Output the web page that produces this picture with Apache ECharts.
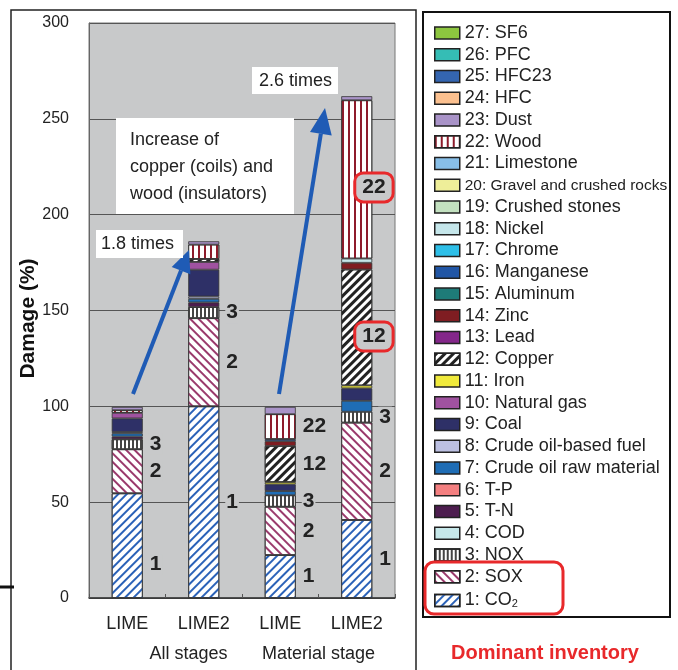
<!DOCTYPE html>
<html><head><meta charset="utf-8">
<script src="https://cdn.jsdelivr.net/npm/echarts@6/dist/echarts.min.js"></script>
<style>html,body{margin:0;padding:0;background:#fff}#c{width:678px;height:670px}</style>
</head><body><div id="c"></div>
<script>
// ---------- data ----------
const categories = ['LIME', 'LIME2', 'LIME', 'LIME2'];
const stageGroups = ['All stages', 'Material stage'];
const yTicks = [0, 50, 100, 150, 200, 250, 300];
const inventoryNames = [
  '1: CO2', '2: SOX', '3: NOX', '4: COD', '5: T-N', '6: T-P',
  '7: Crude oil raw material', '8: Crude oil-based fuel', '9: Coal', '10: Natural gas',
  '11: Iron', '12: Copper', '13: Lead', '14: Zinc', '15: Aluminum', '16: Manganese',
  '17: Chrome', '18: Nickel', '19: Crushed stones', '20: Gravel and crushed rocks',
  '21: Limestone', '22: Wood', '23: Dust', '24: HFC', '25: HFC23', '26: PFC', '27: SF6'
];
// values per bar: [LIME all, LIME2 all, LIME material, LIME2 material]
const co2        = [54.6, 100, 22.4, 40.7];
const sox        = [23.0, 46.0, 25.2, 50.8];
const nox        = [5.2, 5.8, 6.0, 5.7];
const cod        = [0, 0, 0, 0];
const tN         = [1.4, 2.4, 0, 0];
const tP         = [0, 0, 0, 0];
const crudeRaw   = [1.7, 1.9, 2.2, 5.7];
const crudeFuel  = [0.7, 1.2, 0, 0];
const coal       = [7.1, 14.0, 3.5, 6.5];
const naturalGas = [2.9, 4.0, 0, 0];
const iron       = [0, 0, 1.2, 1.5];
const copper     = [0, 1.6, 18.8, 60.5];
const lead       = [0, 0, 0, 0];
const zinc       = [0, 0, 2.5, 3.5];
const aluminum   = [0, 0, 0, 0];
const manganese  = [0, 0, 1.1, 0];
const chrome     = [0, 0, 0, 0];
const nickel     = [0, 0, 0, 2.2];
const crushed    = [0, 0, 0, 0];
const gravel     = [0, 0, 0, 0];
const limestone  = [0, 0, 0, 0];
const wood       = [1.4, 7.5, 13.0, 82.6];
const dust       = [1.7, 1.7, 3.8, 2.1];
const hfc        = [0, 0, 0, 0];
const hfc23      = [0, 0, 0, 0];
const pfc        = [0, 0, 0, 0];
const sf6        = [0, 0, 0, 0];
const seriesValues = [co2, sox, nox, cod, tN, tP, crudeRaw, crudeFuel, coal, naturalGas,
  iron, copper, lead, zinc, aluminum, manganese, chrome, nickel, crushed, gravel,
  limestone, wood, dust, hfc, hfc23, pfc, sf6];
// which bars carry the inventory number next to them
const numberedBars = { 0: [0, 1, 2, 3], 1: [0, 1, 2, 3], 2: [0, 1, 2, 3], 11: [2, 3], 21: [2, 3] };
const boxedBars = { 11: [3], 21: [3] };
const annotationTexts = ['2.6 times', 'Increase of\ncopper (coils) and\nwood (insulators)', '1.8 times'];

// ---------- styles ----------
const FONT = 'Liberation Sans, Arial, Helvetica, sans-serif';
const PLOT_BG = '#c8c9ca';
const plain = {
  3: '#c6e8ea', 4: '#4d1d4f', 5: '#f37f80', 6: '#1f6db5', 7: '#bcc0e2', 8: '#2e3067',
  9: '#a052a0', 10: '#f0ea3c', 12: '#84278a', 13: '#7f1d22', 14: '#1e7b78', 15: '#2156a5',
  16: '#2ebfe8', 17: '#c5e6ea', 18: '#c3e1c0', 19: '#eeee99', 20: '#88bfe8', 22: '#a993c8',
  23: '#fbc08f', 24: '#3465b0', 25: '#35bdb5', 26: '#8dc63f'
};
const patterns = {
  0: { color: '#2b62b8', dashArrayX: [1, 0], dashArrayY: [2, 3.5], rotation: -Math.PI / 4 },
  1: { color: '#9a3a6c', dashArrayX: [1, 0], dashArrayY: [2, 3.5], rotation: Math.PI / 4 },
  2: { color: '#444', dashArrayX: [1.5, 2], dashArrayY: [1, 0], rotation: 0 },
  11: { color: '#222', dashArrayX: [1, 0], dashArrayY: [2.5, 3], rotation: -Math.PI / 4 },
  21: { color: '#8e1b2b', dashArrayX: [1.5, 3.5], dashArrayY: [1, 0], rotation: 0 }
};
const labelOffsets = { '0-0': [0, 19], '11-3': [0, 9], '21-3': [0, 8] };

function makeLabel(si, bi) {
  const num = inventoryNames[si].split(':')[0];
  const boxed = boxedBars[si] && boxedBars[si].includes(bi);
  const lab = {
    show: true, position: 'right', distance: boxed ? -16 : 6,
    formatter: num, fontSize: 21, fontWeight: 'bold', color: '#222', fontFamily: FONT,
    backgroundColor: PLOT_BG, padding: [0, 1], offset: labelOffsets[si + '-' + bi] || [0, 0]
  };
  if (boxed) {
    Object.assign(lab, { borderColor: '#e8292b', borderWidth: 3, borderRadius: 7, padding: [3, 6, 2, 6] });
  }
  return lab;
}

const series = inventoryNames.map((name, si) => {
  const vals = seriesValues[si];
  const itemStyle = { borderColor: '#333', borderWidth: 0.8 };
  if (patterns[si]) {
    itemStyle.color = '#ffffff';
    itemStyle.decal = Object.assign({ symbol: 'rect', symbolSize: 1 }, patterns[si]);
  } else {
    itemStyle.color = plain[si];
  }
  return {
    name: name, type: 'bar', stack: 'total', barWidth: 31, itemStyle: itemStyle,
    emphasis: { disabled: true },
    data: vals.map((v, bi) => {
      const item = { value: v === 0 ? null : v };
      if (numberedBars[si] && numberedBars[si].includes(bi)) item.label = makeLabel(si, bi);
      return item;
    })
  };
});

const chart = echarts.init(document.getElementById('c'), null, { renderer: 'canvas' });
chart.setOption({
  animation: false,
  backgroundColor: '#ffffff',
  grid: { left: 89, right: 283, top: 23, bottom: 72, show: true, backgroundColor: PLOT_BG, borderColor: '#777', borderWidth: 1 },
  xAxis: [{
    type: 'category', data: categories, position: 'bottom',
    axisLine: { lineStyle: { color: '#333', width: 1.5 } },
    axisTick: { show: true, inside: true, length: 4, lineStyle: { color: '#555' } },
    axisLabel: { fontSize: 18, color: '#222', fontFamily: FONT, margin: 17 }
  }, {
    type: 'category', data: stageGroups, position: 'bottom', offset: 30,
    axisLine: { show: false }, axisTick: { show: false }, splitLine: { show: false },
    axisLabel: { fontSize: 18, color: '#222', fontFamily: FONT, margin: 17,
      formatter: (v, i) => i === 0 ? '{a|' + v + '}' : v,
      rich: { a: { fontSize: 18, color: '#222', fontFamily: FONT, padding: [0, 0, 0, 46] } } }
  }],
  yAxis: {
    type: 'value', min: yTicks[0], max: yTicks[yTicks.length - 1], interval: yTicks[1] - yTicks[0],
    name: 'Damage (%)', nameLocation: 'middle', nameGap: 40,
    nameTextStyle: { fontSize: 21, fontWeight: 'bold', color: '#111', fontFamily: FONT, padding: [0, 16, 0, 0] },
    axisLine: { show: true, lineStyle: { color: '#666' } },
    axisTick: { show: false },
    axisLabel: { fontSize: 16, color: '#222', fontFamily: FONT, margin: 20 },
    splitLine: { lineStyle: { color: '#555', width: 1 } }
  },
  legend: {
    data: inventoryNames.slice().reverse(),
    orient: 'vertical', left: 429, top: 19, itemWidth: 25, itemHeight: 12, itemGap: 3.75,
    icon: 'rect', selectedMode: false,
    itemStyle: { borderColor: '#222', borderWidth: 1.5 },
    textStyle: { fontSize: 18, color: '#222', fontFamily: FONT, lineHeight: 18,
      rich: {
        sub: { fontSize: 11, color: '#222', fontFamily: FONT, lineHeight: 18, verticalAlign: 'bottom', padding: [9, 0, 0, 0] },
        nar: { fontSize: 15.5, color: '#222', fontFamily: FONT, lineHeight: 18 }
      } },
    formatter: (name) => {
      if (name === '1: CO2') return '1: CO{sub|2}';
      if (name.indexOf('20:') === 0) return '{nar|' + name + '}';
      return name;
    }
  },
  series: series
});

// ---------- annotations ----------
function arrow(sx, sy, tx, ty, headLen, halfW) {
  const dx = tx - sx, dy = ty - sy, L = Math.sqrt(dx * dx + dy * dy);
  const ux = dx / L, uy = dy / L;
  const bx = tx - ux * headLen, by = ty - uy * headLen;
  return [
    { type: 'line', shape: { x1: sx, y1: sy, x2: bx, y2: by }, style: { stroke: '#1f5bb5', lineWidth: 4 }, z: 50 },
    { type: 'polygon', shape: { points: [[tx, ty], [bx - uy * halfW, by + ux * halfW], [bx + uy * halfW, by - ux * halfW]] },
      style: { fill: '#1f5bb5' }, z: 50 }
  ];
}
function textBox(x, y, w, h, txt, tx, ty, lh) {
  return [
    { type: 'rect', shape: { x: x, y: y, width: w, height: h }, style: { fill: '#fff' }, z: 60 },
    { type: 'text', x: tx, y: ty, style: { text: txt, fontSize: 18, fill: '#222', fontFamily: FONT, lineHeight: lh || 18 }, z: 61 }
  ];
}
const g = [].concat(
  arrow(133, 394, 189, 250, 22, 10),
  arrow(279, 394, 325, 108, 26, 11),
  textBox(252, 67, 86, 27, annotationTexts[0], 259, 72),
  textBox(116, 118, 178, 96, annotationTexts[1], 130, 127, 27),
  textBox(96, 230, 87, 28, annotationTexts[2], 101, 235),
  [
    { type: 'rect', shape: { x: 11, y: 10, width: 405, height: 700 }, style: { fill: 'none', stroke: '#222', lineWidth: 1.5 }, z: 70 },
    { type: 'rect', shape: { x: 423, y: 12, width: 247, height: 605 }, style: { fill: 'none', stroke: '#111', lineWidth: 2 }, z: 70 },
    { type: 'rect', shape: { x: 425, y: 562, width: 138, height: 52, r: 9 }, style: { fill: 'none', stroke: '#e8292b', lineWidth: 3 }, z: 70 },
    { type: 'text', x: 545, y: 653, style: { text: 'Dominant inventory', fontSize: 20, fontWeight: 'bold', fill: '#e8292b', fontFamily: FONT, align: 'center', verticalAlign: 'middle' }, z: 70 },
    { type: 'line', shape: { x1: 0, y1: 587, x2: 14, y2: 587 }, style: { stroke: '#111', lineWidth: 3 }, z: 70 }
  ]
);
chart.setOption({ graphic: g });
</script></body></html>
